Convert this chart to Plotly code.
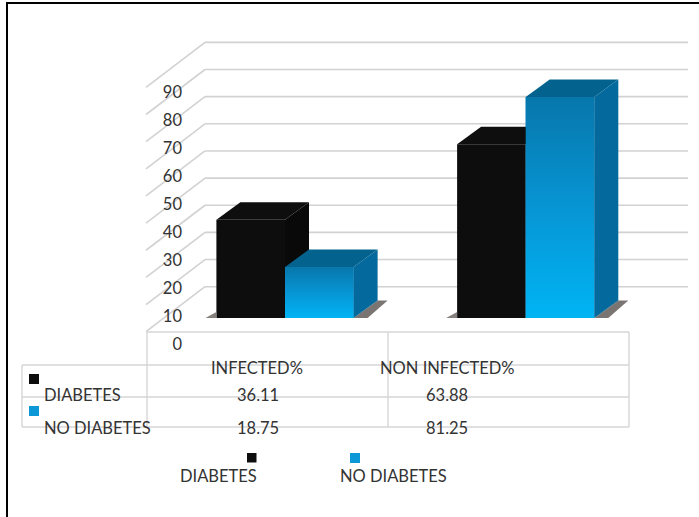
import plotly.graph_objects as go

# ---- data ----
categories = ["INFECTED%", "NON INFECTED%"]
series_names = ["DIABETES", "NO DIABETES"]
diabetes = [36.11, 63.88]
no_diabetes = [18.75, 81.25]
tick_values = [0, 10, 20, 30, 40, 50, 60, 70, 80, 90]

# ---- style / layout ----
W, H = 699, 517
FONT = "Lato"
FONT_SIZE = 16.5
TEXT = "#333333"
GRID = "#d2d2d2"
BLACK = "#0d0d0d"
BLUE = "#0790cc"
BLUE_TOP = "#04628f"
BLUE_SIDE = "#04699c"

X0_PX, X_UNIT_PX = 285.0, 240.7   # pixel of first group centre, pixels per group
Y0_PX, Y_UNIT_PX = 318.0, 2.72    # pixel of the bar base, pixels per value unit
BAR_W = 0.285
DX = 24 / X_UNIT_PX               # bar depth along x
DY = 17.5 / Y_UNIT_PX             # bar depth along y


def dx(px):
    return (px - X0_PX) / X_UNIT_PX


def dy(py):
    return (Y0_PX - py) / Y_UNIT_PX


fig = go.Figure()
xs = list(range(len(categories)))

# native bars (front faces)
fig.add_bar(x=xs, y=diabetes, name=series_names[0], marker=dict(color=BLACK, line_width=0))
fig.add_bar(x=xs, y=no_diabetes, name=series_names[1], marker=dict(color=BLUE, line_width=0))


def poly(px_, py_, color=None, gradient=None):
    kw = dict(fillgradient=gradient) if gradient else dict(fillcolor=color)
    fig.add_scatter(x=px_ + px_[:1], y=py_ + py_[:1], mode="lines", fill="toself",
                    line=dict(width=0), hoverinfo="skip", showlegend=False, **kw)


front_gradient = dict(type="vertical", colorscale=[[0, "#00b4f4"], [0.5, "#0795d4"], [1, "#0777ab"]])

for c, a, b in zip(xs, diabetes, no_diabetes):
    L, M, R = c - BAR_W, c, c + BAR_W
    # floor shadows
    poly([L - 11 / X_UNIT_PX, L, L], [0, 0, DY * 0.35], "#85807d")
    poly([R, R + DX, R + DX + 10 / X_UNIT_PX, R + 14 / X_UNIT_PX],
         [0, DY, DY, 0], "#7a7573")
    # first series: side and top
    poly([M, M + DX, M + DX, M], [0, DY, a + DY, a], "#090909")
    poly([L, L + DX, M + DX, M], [a, a + DY, a + DY, a], "#0e0e0e")
    # second series: front gradient, top, side
    poly([M, R, R, M], [0, 0, b, b], gradient=front_gradient)
    poly([M, M + DX, R + DX, R], [b, b + DY, b + DY, b], BLUE_TOP)
    poly([R, R + DX, R + DX, R], [0, DY, b + DY, b], BLUE_SIDE)

# invisible carrier of the labelled value axis
fig.add_scatter(x=[xs[0]] * len(tick_values), y=tick_values, yaxis="y2", mode="markers",
                marker=dict(opacity=0), hoverinfo="skip", showlegend=False)

shapes = []
BACK_L, FRONT_L, BACK_R = dx(205), dx(146), dx(688)
BACK_0, FRONT_0 = dy(286.7), dy(331.7)


def seg(x0, y0, x1, y1, color=GRID, width=1.6, layer="below"):
    shapes.append(dict(type="line", xref="x", yref="y", x0=x0, y0=y0, x1=x1, y1=y1,
                       line=dict(color=color, width=width), layer=layer))


# back wall and left wall gridlines
for t in tick_values:
    yb = BACK_0 + t * 27.15 / Y_UNIT_PX / 10
    yf = FRONT_0 + t * 27.15 / Y_UNIT_PX / 10
    seg(BACK_L, yb, BACK_R, yb)
    seg(FRONT_L, yf, BACK_L, yb)


# data table grid
def pxline(x0, y0, x1, y1):
    shapes.append(dict(type="line", xref="paper", yref="paper", x0=x0 / W, y0=1 - y0 / H,
                       x1=x1 / W, y1=1 - y1 / H, line=dict(color="#d6d6d6", width=1.4), layer="below"))


pxline(147, 332, 629, 332)
pxline(22, 365, 629, 365)
pxline(22, 397, 629, 397)
pxline(22, 427, 629, 427)
pxline(22, 365, 22, 427)
pxline(147, 332, 147, 427)
pxline(388, 332, 388, 427)
pxline(629, 332, 629, 427)

# image frame (top and left only)
for x0, y0, x1, y1 in [(6, 3, 699, 3), (7, 3, 7, 517)]:
    shapes.append(dict(type="line", xref="paper", yref="paper", x0=x0 / W, y0=1 - y0 / H,
                       x1=x1 / W, y1=1 - y1 / H, line=dict(color="#000000", width=2)))


# legend-key squares
def key(x0, y0, size, color):
    shapes.append(dict(type="rect", xref="paper", yref="paper", x0=x0 / W, x1=(x0 + size) / W,
                       y0=1 - y0 / H, y1=1 - (y0 + size) / H, fillcolor=color, line_width=0))


key(29, 374, 10, BLACK)
key(29, 406, 10, "#0c97d6")
key(247, 453, 9.5, BLACK)
key(350, 453, 10, "#0c97d6")

annotations = []


def label(text, x, y, anchor="center"):
    annotations.append(dict(text=text, x=x / W, y=1 - y / H, xref="paper", yref="paper",
                            xanchor=anchor, yanchor="middle", showarrow=False,
                            font=dict(family=FONT, size=FONT_SIZE, color=TEXT)))


label(categories[0], 257, 368)
label(categories[1], 447, 368)
label(series_names[0], 42, 395, "left")
label(series_names[1], 42, 428, "left")
label(f"{diabetes[0]:.2f}", 258, 395)
label(f"{no_diabetes[0]:.2f}", 258, 428)
label(f"{diabetes[1]:.2f}", 447, 395)
label(f"{no_diabetes[1]:.2f}", 447, 428)
label(series_names[0], 218, 476)
label(series_names[1], 393, 476)

fig.update_layout(
    width=W, height=H, margin=dict(l=0, r=0, t=0, b=0, autoexpand=False),
    paper_bgcolor="white", plot_bgcolor="rgba(0,0,0,0)",
    barmode="group", bargap=1 - 2 * BAR_W, bargroupgap=0, showlegend=False,
    shapes=shapes, annotations=annotations,
    xaxis=dict(range=[dx(0), dx(W)], visible=False, fixedrange=True),
    yaxis=dict(range=[dy(H), dy(0)], visible=False, fixedrange=True),
    yaxis2=dict(overlaying="y", anchor="free", position=182 / W, side="left",
                range=[(344 - H) / 2.8, 344 / 2.8], tickmode="array", tickvals=tick_values,
                showgrid=False, zeroline=False, showline=False, ticks="", fixedrange=True,
                tickfont=dict(family=FONT, size=FONT_SIZE, color=TEXT)),
)

fig.write_html("out.html", config={"displayModeBar": False},
               post_script="document.body.style.margin='0';document.body.style.overflow='hidden';")
